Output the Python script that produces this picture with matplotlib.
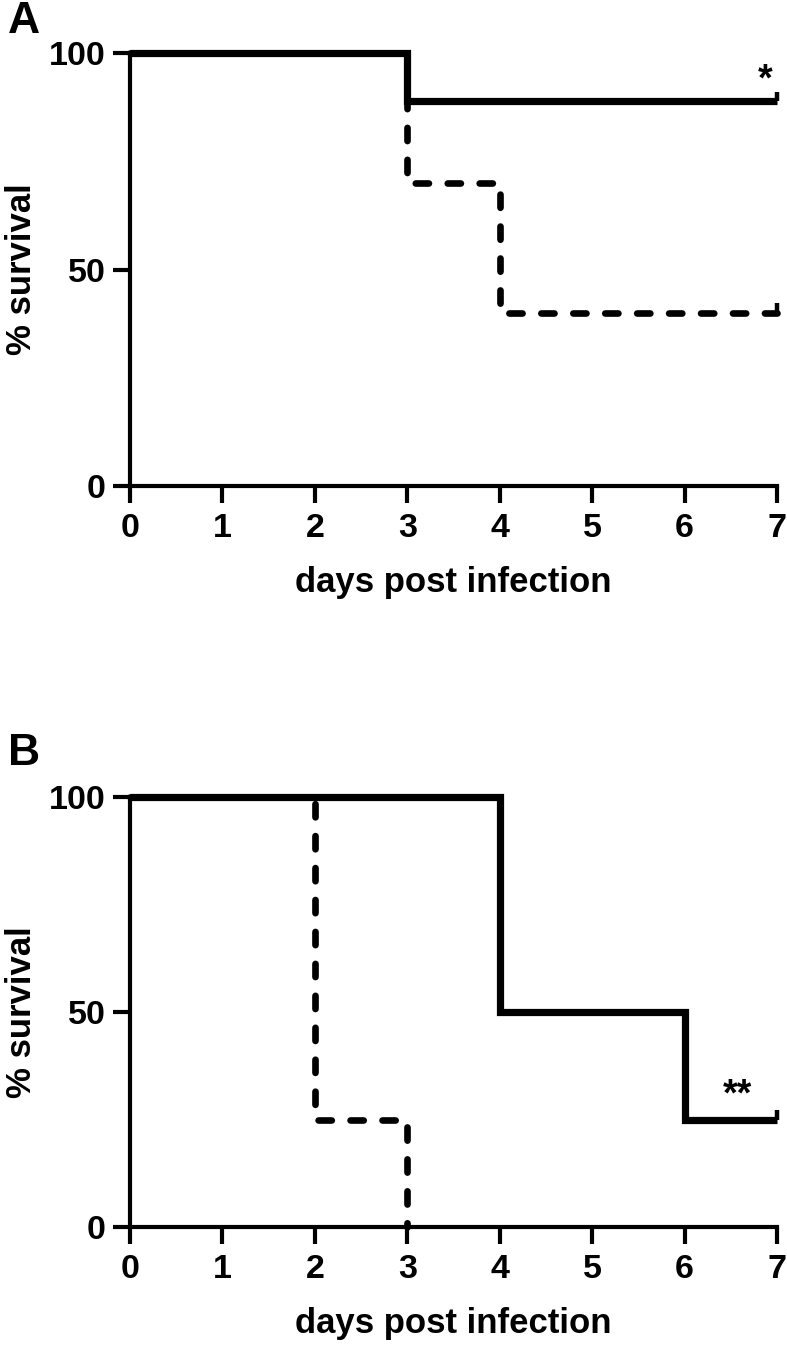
import matplotlib
matplotlib.use("Agg")
import matplotlib.pyplot as plt

# panel A survival steps (days, % survival)
a_solid_days = [0, 3, 3, 7]
a_solid_surv = [100, 100, 88.9, 88.9]
a_dash_days = [0, 3, 3, 4, 4, 7]
a_dash_surv = [100, 100, 70, 70, 40, 40]

# panel B
b_solid_days = [0, 4, 4, 6, 6, 7]
b_solid_surv = [100, 100, 50, 50, 25, 25]
b_dash_days = [0, 2, 2, 3, 3]
b_dash_surv = [100, 100, 25, 25, 0]

x_ticks = [0, 1, 2, 3, 4, 5, 6, 7]
y_ticks = [0, 50, 100]

plt.rcParams['font.family'] = ['Liberation Sans', 'DejaVu Sans']
plt.rcParams['font.weight'] = 'bold'
plt.rcParams['lines.scale_dashes'] = False

fig = plt.figure(figsize=(7.87, 13.47), dpi=100)
W, H = 787, 1347


def make_axes(top_px, bot_px):
    left, right = 130, 777
    return fig.add_axes([left / W, 1 - bot_px / H, (right - left) / W, (bot_px - top_px) / H])


def style(ax):
    ax.set_xlim(0, 7)
    ax.set_ylim(0, 100)
    for s in ['top', 'right']:
        ax.spines[s].set_visible(False)
    for s in ['left', 'bottom']:
        ax.spines[s].set_linewidth(3)
        ax.spines[s].set_capstyle('projecting')
    ax.set_xticks(x_ticks)
    ax.set_yticks(y_ticks)
    ax.tick_params(axis='both', length=12.5, width=3, labelsize=24.5)
    ax.tick_params(axis='x', pad=7)
    ax.tick_params(axis='y', pad=5)
    for lab in ax.get_xticklabels() + ax.get_yticklabels():
        lab.set_fontweight('bold')
    ax.set_xlabel('days post infection', fontsize=25, fontweight='bold', labelpad=16)
    ax.set_ylabel('% survival', fontsize=25, fontweight='bold', labelpad=8)


def km(ax, days, surv, dashed=False):
    kw = dict(color='black', clip_on=False)
    if dashed:
        kw.update(linestyle=(0, (9.5, 13.5)), dash_capstyle='round', lw=4.8, zorder=3)
    else:
        kw.update(solid_joinstyle='miter', solid_capstyle='butt', lw=5.2, zorder=4)
    ax.plot(days, surv, **kw)
    # censor tick at the end of follow-up
    if surv[-1] > 0:
        ax.vlines(days[-1], surv[-1], surv[-1] + 2.2, color='black', lw=3.2, clip_on=False, zorder=4)


axA = make_axes(53, 486)
style(axA)
km(axA, a_dash_days, a_dash_surv, dashed=True)
km(axA, a_solid_days, a_solid_surv)
axA.text(6.87, 89.5, '*', fontsize=27, fontweight='bold', ha='center', va='bottom')

axB = make_axes(797, 1227)
style(axB)
km(axB, b_dash_days, b_dash_surv, dashed=True)
km(axB, b_solid_days, b_solid_surv)
axB.text(6.57, 26.5, '**', fontsize=27, fontweight='bold', ha='center', va='bottom')

fig.text(8 / W, 1 - 1 / H, 'A', fontsize=32, fontweight='bold', va='top', ha='left')
fig.text(8 / W, 1 - 733 / H, 'B', fontsize=32, fontweight='bold', va='top', ha='left')

fig.savefig('out.png', dpi=100)
